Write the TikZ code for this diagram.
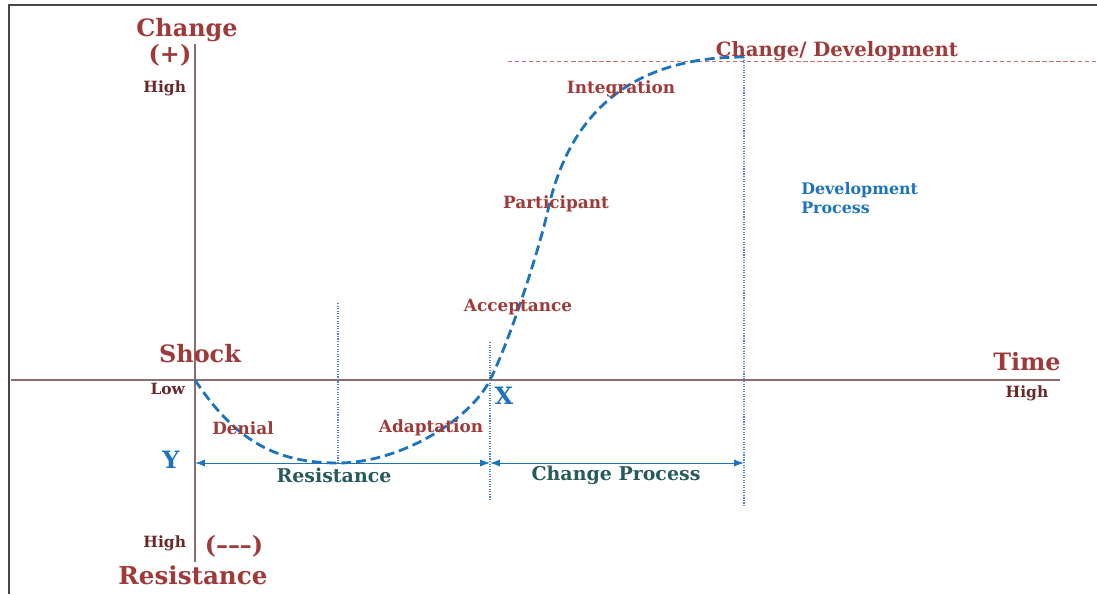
\documentclass[tikz,border=0pt]{standalone}
\usepackage{fontspec}
\setmainfont{DejaVu Serif}
\usetikzlibrary{arrows.meta,positioning}
\definecolor{chgred}{RGB}{158,58,58}
\definecolor{lowbrown}{RGB}{105,40,42}
\definecolor{curveblue}{RGB}{30,115,190}
\definecolor{markblue}{RGB}{80,130,190}
\definecolor{phaseteal}{RGB}{40,90,92}
\definecolor{axisbrown}{RGB}{140,108,108}
\definecolor{limitred}{RGB}{200,110,110}
\definecolor{framegray}{RGB}{70,70,70}
\newcommand{\fs}[1]{\fontsize{#1}{1.2\dimexpr#1pt\relax}\selectfont\bfseries}

\begin{document}
\begin{tikzpicture}[x=0.025cm, y=-0.025cm,
    axis/.style={axisbrown, line width=0.8pt},
    marker/.style={markblue, line width=0.8pt, densely dotted},
    span/.style={curveblue, line width=0.7pt, {Latex[length=7pt,width=5pt]}-{Latex[length=7pt,width=5pt]}},
    bigred/.style={text=chgred, font=\fs{17}},
    stage/.style={text=chgred, font=\fs{12}},
    level/.style={text=lowbrown, font=\fs{11}},
    phase/.style={text=phaseteal, font=\fs{13.5}},
    point/.style={text=curveblue, font=\fs{17}}]
    \useasboundingbox (0,0) rectangle (1097,594);
    % Frame
    \draw[framegray, line width=1.1pt] (9,594) -- (9,5) -- (1097,5);

    % Axes
    \coordinate (xstart) at (11,380);
    \coordinate (xend) at (1060,380);
    \coordinate (ytop) at (195,44);
    \coordinate (ybot) at (195,562);
    \draw[axis] (xstart) -- (xend);
    \draw[axis] (ybot) -- (ytop);

    % Axis labels
    \node[bigred] (change) at (187,30) {Change};
    \node[bigred] (plus) at (170,55) {(+)};
    \node[level, anchor=east] (hightop) at (191,88) {High};
    \node[bigred] (shock) at (200,354) {Shock};
    \node[level, anchor=east] (low) at (190,389) {Low};
    \node[level, anchor=east] (highbot) at (191,543) {High};
    \node[bigred] (minus) at (234,546) {(\textendash\textendash\textendash)};
    \node[bigred, font=\fs{17.5}] (resist) at (193,575) {Resistance};
    \node[bigred] (time) at (1027,362) {Time};
    \node[level] (highright) at (1027,393) {High};

    % Phase boundaries
    \coordinate (origin) at (195,380);
    \coordinate (bottom) at (338,463);
    \coordinate (bottomtop) at (338,303);
    \coordinate (cross) at (490,380);
    \coordinate (crosstop) at (490,342);
    \coordinate (crossbot) at (490,500);
    \coordinate (turn) at (548,210);
    \coordinate (peak) at (744,57);
    \coordinate (peakbot) at (744,506);
    \coordinate (limstart) at (508,61);
    \coordinate (limend) at (1097,61);
    \draw[marker] (bottomtop) -- (bottom);
    \draw[marker] (crosstop) -- (crossbot);
    \draw[marker] (peak) -- (peakbot);
    \draw[limitred, line width=0.7pt, densely dashed] (limstart) -- (limend);

    % Spans
    \coordinate (spanleft) at (195,463);
    \coordinate (spanmid) at (490,463);
    \coordinate (spanright) at (744,463);
    \draw[span] (spanleft) -- (spanmid);
    \draw[span] (spanmid) -- (spanright);
    \node[phase] (resphase) at (334,475) {Resistance};
    \node[phase] (chgphase) at (616,475) {Change Process};

    % Change curve
    \draw[curveblue, line width=2pt, dash pattern=on 7pt off 3.5pt]
        (origin) .. controls (235,440) and (275,463) .. (bottom)
        .. controls (400,463) and (470,420) .. (cross)
        .. controls (510,340) and (539,250) .. (turn)
        .. controls (571,105) and (640,57) .. (peak);

    % Stages
    \node[stage] (denial) at (243,428) {Denial};
    \node[stage] (adapt) at (431,428) {Adaptation};
    \node[stage] (accept) at (518,307) {Acceptance};
    \node[stage] (partic) at (556,204) {Participant};
    \node[stage] (integ) at (621,89) {Integration};
    \node[text=chgred, font=\fs{14}] (develop) at (837,51) {Change/ Development};
    \node[text=curveblue, font=\fs{11.3}, anchor=west, align=left, inner sep=0pt] (devproc) at (801,198) {Development\\Process};
    \node[point] (xpt) at (504,396) {X};
    \node[point] (ypt) at (171,460) {Y};
\end{tikzpicture}
\end{document}
